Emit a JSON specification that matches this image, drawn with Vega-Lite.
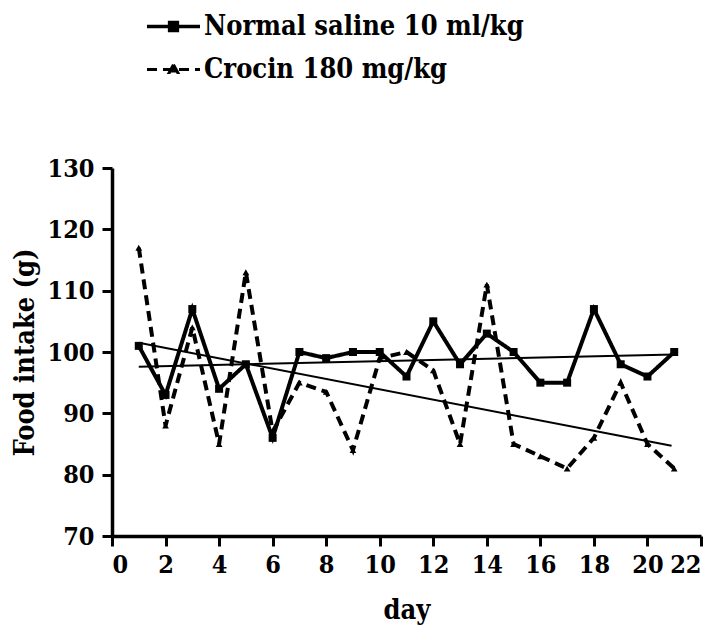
{
  "$schema": "https://vega.github.io/schema/vega-lite/v6.json",
  "width": 589,
  "height": 368,
  "autosize": {"type": "none"},
  "padding": {"left": 112, "top": 168, "right": 15, "bottom": 95},
  "background": "white",
  "config": {
    "view": {"stroke": null},
    "font": "DejaVu Serif Condensed",
    "axis": {
      "grid": false,
      "domainColor": "black",
      "domainWidth": 3.5,
      "tickColor": "black",
      "tickWidth": 3,
      "tickSize": 10,
      "labelFont": "DejaVu Serif Condensed",
      "labelFontWeight": "bold",
      "labelFontSize": 25,
      "labelColor": "black",
      "titleFont": "DejaVu Serif Condensed",
      "titleFontWeight": "bold",
      "titleFontSize": 27,
      "titleColor": "black"
    }
  },
  "datasets": {
    "obs": [
      {"day": 1, "series": "Normal saline 10 ml/kg", "intake": 101},
      {"day": 2, "series": "Normal saline 10 ml/kg", "intake": 93},
      {"day": 3, "series": "Normal saline 10 ml/kg", "intake": 107},
      {"day": 4, "series": "Normal saline 10 ml/kg", "intake": 94},
      {"day": 5, "series": "Normal saline 10 ml/kg", "intake": 98},
      {"day": 6, "series": "Normal saline 10 ml/kg", "intake": 86},
      {"day": 7, "series": "Normal saline 10 ml/kg", "intake": 100},
      {"day": 8, "series": "Normal saline 10 ml/kg", "intake": 99},
      {"day": 9, "series": "Normal saline 10 ml/kg", "intake": 100},
      {"day": 10, "series": "Normal saline 10 ml/kg", "intake": 100},
      {"day": 11, "series": "Normal saline 10 ml/kg", "intake": 96},
      {"day": 12, "series": "Normal saline 10 ml/kg", "intake": 105},
      {"day": 13, "series": "Normal saline 10 ml/kg", "intake": 98},
      {"day": 14, "series": "Normal saline 10 ml/kg", "intake": 103},
      {"day": 15, "series": "Normal saline 10 ml/kg", "intake": 100},
      {"day": 16, "series": "Normal saline 10 ml/kg", "intake": 95},
      {"day": 17, "series": "Normal saline 10 ml/kg", "intake": 95},
      {"day": 18, "series": "Normal saline 10 ml/kg", "intake": 107},
      {"day": 19, "series": "Normal saline 10 ml/kg", "intake": 98},
      {"day": 20, "series": "Normal saline 10 ml/kg", "intake": 96},
      {"day": 21, "series": "Normal saline 10 ml/kg", "intake": 100},
      {"day": 1, "series": "Crocin 180 mg/kg", "intake": 117},
      {"day": 2, "series": "Crocin 180 mg/kg", "intake": 88},
      {"day": 3, "series": "Crocin 180 mg/kg", "intake": 104},
      {"day": 4, "series": "Crocin 180 mg/kg", "intake": 85},
      {"day": 5, "series": "Crocin 180 mg/kg", "intake": 113},
      {"day": 6, "series": "Crocin 180 mg/kg", "intake": 87},
      {"day": 7, "series": "Crocin 180 mg/kg", "intake": 95},
      {"day": 8, "series": "Crocin 180 mg/kg", "intake": 93.5},
      {"day": 9, "series": "Crocin 180 mg/kg", "intake": 84},
      {"day": 10, "series": "Crocin 180 mg/kg", "intake": 99},
      {"day": 11, "series": "Crocin 180 mg/kg", "intake": 100},
      {"day": 12, "series": "Crocin 180 mg/kg", "intake": 97},
      {"day": 13, "series": "Crocin 180 mg/kg", "intake": 85},
      {"day": 14, "series": "Crocin 180 mg/kg", "intake": 111},
      {"day": 15, "series": "Crocin 180 mg/kg", "intake": 85},
      {"day": 16, "series": "Crocin 180 mg/kg", "intake": 83},
      {"day": 17, "series": "Crocin 180 mg/kg", "intake": 81},
      {"day": 18, "series": "Crocin 180 mg/kg", "intake": 86},
      {"day": 19, "series": "Crocin 180 mg/kg", "intake": 95},
      {"day": 20, "series": "Crocin 180 mg/kg", "intake": 85},
      {"day": 21, "series": "Crocin 180 mg/kg", "intake": 81}
    ],
    "trend": [
      {"day": 1, "series": "Normal saline 10 ml/kg", "intake": 97.6},
      {"day": 21, "series": "Normal saline 10 ml/kg", "intake": 99.6},
      {"day": 1, "series": "Crocin 180 mg/kg", "intake": 101.5},
      {"day": 20.9, "series": "Crocin 180 mg/kg", "intake": 84.7}
    ]
  },
  "layer": [
    {
      "data": {"name": "trend"},
      "mark": {"type": "line", "color": "black", "strokeWidth": 2},
      "encoding": {
        "x": {"field": "day", "type": "quantitative"},
        "y": {"field": "intake", "type": "quantitative"},
        "detail": {"field": "series"}
      }
    },
    {
      "data": {"name": "obs"},
      "mark": {"type": "line", "color": "black", "strokeWidth": 4},
      "encoding": {
        "x": {
          "field": "day", "type": "quantitative", "title": "day",
          "scale": {"domain": [0, 22], "nice": false, "zero": false},
          "axis": {"values": [0, 2, 4, 6, 8, 10, 12, 14, 16, 18, 20, 22], "labelPadding": 6, "titlePadding": 20}
        },
        "y": {
          "field": "intake", "type": "quantitative", "title": "Food intake (g)",
          "scale": {"domain": [70, 130], "nice": false, "zero": false},
          "axis": {"values": [70, 80, 90, 100, 110, 120, 130], "labelPadding": 8, "titlePadding": 8}
        },
        "strokeDash": {
          "field": "series", "type": "nominal",
          "scale": {"domain": ["Normal saline 10 ml/kg", "Crocin 180 mg/kg"], "range": [[1, 0], [10, 6]]},
          "legend": {
            "title": null,
            "orient": "none",
            "legendX": 48,
            "legendY": -155,
            "symbolSize": 900,
            "symbolType": "M-1.767,0H1.767M-0.24,-0.24H0.24V0.24H-0.24Z",
            "symbolStrokeColor": "black",
            "symbolFillColor": "black",
            "symbolStrokeWidth": 3.5,
            "labelFont": "DejaVu Serif Condensed",
            "labelFontWeight": "bold",
            "labelFontSize": 27,
            "labelColor": "black",
            "labelOffset": 17,
            "labelLimit": 600,
            "rowPadding": 15,
            "encode": {
              "symbols": {
                "update": {
                  "shape": {"signal": "datum.value === 'Crocin 180 mg/kg' ? 'M-1.767,0H1.767M0,-0.32L0.28,0.2H-0.28Z' : 'M-1.767,0H1.767M-0.26,-0.26H0.26V0.26H-0.26Z'"},
                  "stroke": {"value": "black"},
                  "fill": {"value": "black"},
                  "strokeWidth": {"signal": "datum.value === 'Crocin 180 mg/kg' ? 3 : 3.5"},
                  "strokeDash": {"signal": "datum.value === 'Crocin 180 mg/kg' ? [5, 4] : [1, 0]"},
                  "opacity": {"value": 1}
                }
              }
            }
          }
        }
      }
    },
    {
      "data": {"name": "obs"},
      "transform": [{"filter": "datum.series === 'Normal saline 10 ml/kg'"}],
      "mark": {"type": "point", "filled": true, "color": "black", "opacity": 1, "shape": "square", "size": 64},
      "encoding": {
        "x": {"field": "day", "type": "quantitative"},
        "y": {"field": "intake", "type": "quantitative"}
      }
    },
    {
      "data": {"name": "obs"},
      "transform": [{"filter": "datum.series === 'Crocin 180 mg/kg'"}],
      "mark": {"type": "point", "filled": true, "color": "black", "opacity": 1, "shape": "triangle-up", "size": 45},
      "encoding": {
        "x": {"field": "day", "type": "quantitative"},
        "y": {"field": "intake", "type": "quantitative"}
      }
    }
  ]
}
